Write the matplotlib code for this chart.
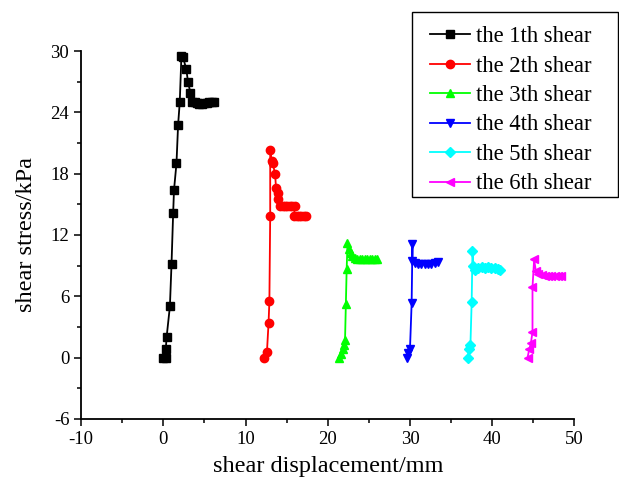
import matplotlib
matplotlib.use("Agg")
import matplotlib.pyplot as plt
from matplotlib.patches import Rectangle

# shear displacement (mm) / shear stress (kPa) for each shear run
x1 = [0.0, 0.3, 0.3, 0.4, 0.8, 1.0, 1.2, 1.3, 1.6, 1.8, 2.0, 2.2, 2.4, 2.8, 3.0, 3.3,
      3.5, 3.8, 4.1, 4.4, 4.7, 5.0, 5.3, 5.6, 5.9, 6.2]
y1 = [0.0, 0.0, 0.8, 2.0, 5.0, 9.2, 14.2, 16.4, 19.0, 22.8, 25.0, 29.5, 29.4, 28.2, 27.0, 25.9,
      25.0, 25.0, 24.9, 24.8, 24.8, 24.9, 24.9, 25.0, 25.0, 25.0]

x2 = [12.3, 12.6, 12.8, 12.9, 13.0, 13.0, 13.2, 13.3, 13.6, 13.7, 13.9, 14.0, 14.2, 14.5,
      14.8, 15.1, 15.4, 15.7, 16.0, 15.9, 16.2, 16.5, 16.8, 17.1, 17.4]
y2 = [0.0, 0.5, 3.4, 5.5, 13.9, 20.3, 19.2, 19.0, 18.0, 16.6, 16.1, 15.5, 14.8, 14.8,
      14.8, 14.8, 14.8, 14.8, 14.8, 13.9, 13.9, 13.9, 13.9, 13.9, 13.9]

x3 = [21.4, 21.6, 21.8, 22.0, 22.1, 22.2, 22.3, 22.4, 22.6, 22.8, 23.0, 23.3, 23.6, 23.9,
      24.2, 24.5, 24.8, 25.1, 25.4, 25.7, 26.0]
y3 = [0.0, 0.3, 0.8, 1.2, 1.7, 5.2, 8.7, 11.2, 10.6, 10.2, 9.9, 9.7, 9.6, 9.6,
      9.6, 9.6, 9.6, 9.6, 9.6, 9.6, 9.6]

x4 = [29.6, 29.8, 30.0, 30.2, 30.3, 30.3, 30.6, 31.0, 31.4, 31.8, 32.2, 32.6, 33.0, 33.4]
y4 = [0.0, 0.4, 0.85, 5.3, 11.1, 9.5, 9.3, 9.2, 9.2, 9.2, 9.2, 9.2, 9.3, 9.4]

x5 = [37.0, 37.2, 37.35, 37.5, 37.6, 37.7, 37.9, 38.3, 38.7, 39.1, 39.5, 39.9, 40.3, 40.7, 41.0]
y5 = [0.0, 0.8, 1.2, 5.4, 10.4, 9.0, 8.6, 8.8, 8.9, 8.8, 8.9, 8.8, 8.8, 8.7, 8.6]

x6 = [44.3, 44.5, 44.7, 44.9, 44.9, 45.1, 45.3, 45.6, 46.0, 46.4, 46.8, 47.2, 47.6, 48.0, 48.4]
y6 = [0.0, 0.8, 1.4, 2.5, 6.9, 9.6, 8.5, 8.2, 8.1, 8.0, 8.0, 8.0, 8.0, 8.0, 8.0]

labels = ["the 1th shear", "the 2th shear", "the 3th shear",
          "the 4th shear", "the 5th shear", "the 6th shear"]
colors = ["black", "red", "#00ff00", "blue", "cyan", "magenta"]
markers = ["s", "o", "^", "v", "D", "<"]

plt.rcParams["font.family"] = ["Liberation Serif", "DejaVu Serif"]
plt.rcParams["axes.unicode_minus"] = False

fig = plt.figure(figsize=(6.19, 4.82), dpi=100)
ax = fig.add_axes([0.131, 0.131, 0.797, 0.763])

series = [(x1, y1), (x2, y2), (x3, y3), (x4, y4), (x5, y5), (x6, y6)]
for (xs, ys), lab, c, m in zip(series, labels, colors, markers):
    ax.plot(xs, ys, color=c, marker=m, markersize=6 if m != "D" else 5,
            linewidth=1.3, label=lab)

ax.set_xlim(-10, 50)
ax.set_ylim(-6, 30)
ax.set_xticks(range(-10, 51, 10))
ax.set_yticks(range(-6, 31, 6))
ax.set_xticks(range(-5, 50, 10), minor=True)
ax.set_yticks(range(-3, 30, 6), minor=True)
ax.tick_params(which="major", direction="out", length=5, width=1.1, labelsize=13.5)
ax.tick_params(which="minor", direction="out", length=3, width=1.1)

ax.spines["top"].set_visible(False)
ax.spines["right"].set_visible(False)
ax.spines["left"].set_linewidth(1.3)
ax.spines["bottom"].set_linewidth(1.3)

ax.set_xlabel("shear displacement/mm", fontsize=17.5, labelpad=6)
ax.set_ylabel("shear stress/kPa", fontsize=17.5, labelpad=10)

# legend entries without frame, frame drawn separately as in the original
leg = fig.legend(loc="upper left", bbox_to_anchor=(0.694, 0.946), fontsize=16.3,
                 frameon=False, handlelength=1.8, handletextpad=0.27,
                 labelspacing=0.375, borderpad=0, borderaxespad=0)
fig.patches.append(Rectangle((412 / 619, 1 - 197 / 482), 206 / 619, 185 / 482,
                             transform=fig.transFigure, fill=False,
                             edgecolor="black", linewidth=1.0))

fig.savefig("out.png", dpi=100)
